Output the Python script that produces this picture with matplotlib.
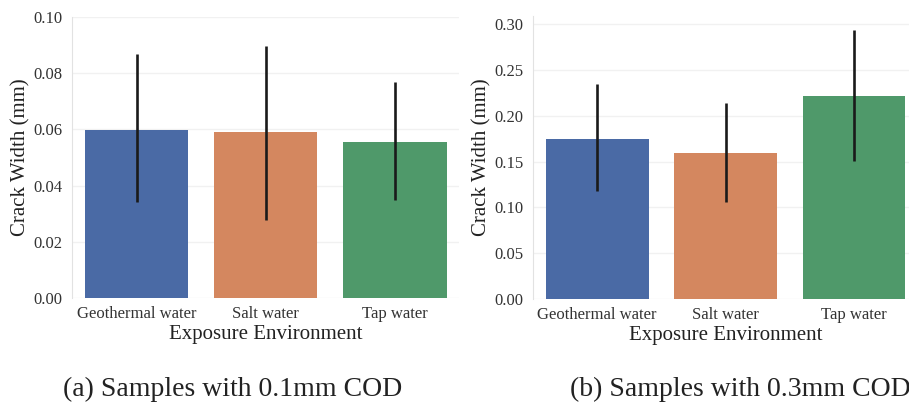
import matplotlib
matplotlib.use("Agg")
import matplotlib.pyplot as plt
import numpy as np

plt.rcParams['font.family'] = ['Liberation Serif', 'DejaVu Serif']

envs = ["Geothermal water", "Salt water", "Tap water"]
colors = ['#4a6aa5', '#d4875f', '#4f996a']

# 0.1mm COD
mean_a = [0.0598, 0.0590, 0.0554]
low_a = [0.0343, 0.0278, 0.0349]
high_a = [0.0868, 0.0898, 0.0770]

# 0.3mm COD
mean_b = [0.1748, 0.1595, 0.2215]
low_b = [0.1175, 0.1059, 0.1503]
high_b = [0.2343, 0.2135, 0.2938]

fig = plt.figure(figsize=(9.09, 4.08), dpi=100)
ax1 = fig.add_axes([0.0792, 0.2696, 0.4263, 0.6887])
ax2 = fig.add_axes([0.5864, 0.2672, 0.4235, 0.6936])


def draw(ax, means, lows, highs, ylim, ticks):
    x = np.arange(len(envs))
    ax.bar(x, means, width=0.8, color=colors, zorder=2)
    yerr = [np.array(means) - np.array(lows), np.array(highs) - np.array(means)]
    ax.errorbar(x, means, yerr=yerr, fmt='none', ecolor='#1a1a1a',
                elinewidth=1.9, capsize=0, zorder=3)
    ax.set_xlim(-0.5, 2.5)
    ax.set_ylim(*ylim)
    ax.set_yticks(ticks)
    ax.set_yticklabels([f"{t:.2f}" for t in ticks])
    ax.set_xticks(x)
    ax.set_xticklabels(envs)
    ax.tick_params(axis='both', length=0, labelsize=12, colors='#333333')
    ax.tick_params(axis='x', pad=6)
    ax.tick_params(axis='y', pad=7)
    ax.grid(axis='y', color='#f1f1f1', linewidth=1, zorder=0)
    for s in ['top', 'right', 'bottom']:
        ax.spines[s].set_visible(False)
    ax.spines['left'].set_color('#e2e2e2')
    ax.set_xlabel("Exposure Environment", fontsize=15, color='#222222', labelpad=2)
    ax.set_ylabel("Crack Width (mm)", fontsize=15, color='#222222', labelpad=2)


draw(ax1, mean_a, low_a, high_a, (0, 0.1), [0, 0.02, 0.04, 0.06, 0.08, 0.10])
draw(ax2, mean_b, low_b, high_b, (0, 0.309), [0, 0.05, 0.10, 0.15, 0.20, 0.25, 0.30])

fig.text(0.0693, 0.046, "(a) Samples with 0.1mm COD", fontsize=20, ha='left', va='center', color='#222222')
fig.text(0.627, 0.046, "(b) Samples with 0.3mm COD", fontsize=20, ha='left', va='center', color='#222222')

fig.savefig("out.png", dpi=100)
